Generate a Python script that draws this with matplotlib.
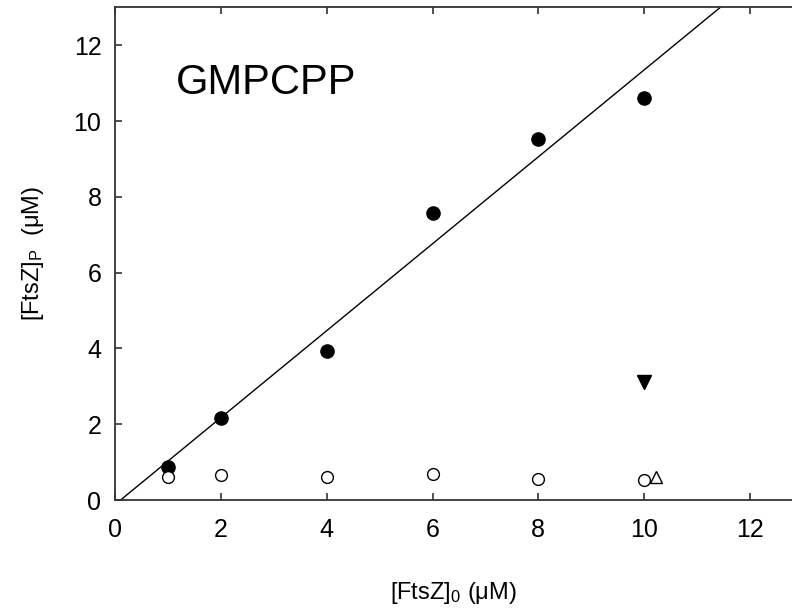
import matplotlib
matplotlib.use('Agg')
import matplotlib.pyplot as plt
import numpy as np

plt.rcParams['font.family'] = ['Liberation Sans', 'DejaVu Sans']
plt.rcParams['mathtext.fontset'] = 'custom'
plt.rcParams['mathtext.rm'] = 'Liberation Sans'
plt.rcParams['mathtext.it'] = 'Liberation Sans:italic'

# data
x_conc = [1, 2, 4, 6, 8, 10]
polymer_filled = [0.88, 2.17, 3.93, 7.57, 9.53, 10.6]
polymer_open = [0.60, 0.66, 0.60, 0.68, 0.55, 0.54]
tri_down_x = [10]
tri_down_y = [3.11]
tri_up_x = [10.22]
tri_up_y = [0.62]

fit_slope = 1.146
fit_x0 = 0.1  # x intercept

xticks = [0, 2, 4, 6, 8, 10, 12]
yticks = [0, 2, 4, 6, 8, 10, 12]

fig = plt.figure(figsize=(7.92, 6.12), dpi=100)
ax = fig.add_axes([0.1456, 0.183, 0.8544, 0.805])

xx = np.array([fit_x0, 13.0])
ax.plot(xx, fit_slope * (xx - fit_x0), color='black', lw=1.0, zorder=2)

ax.plot(x_conc, polymer_filled, 'o', ms=9.5, mfc='black', mec='black', zorder=3)
ax.plot(x_conc, polymer_open, 'o', ms=8.5, mfc='white', mec='black', mew=1.0, zorder=3)
ax.plot(tri_down_x, tri_down_y, 'v', ms=9.5, mfc='black', mec='black', zorder=3)
ax.plot(tri_up_x, tri_up_y, '^', ms=8.5, mfc='white', mec='black', mew=1.0, zorder=3)

ax.text(1.15, 11.0, 'GMPCPP', fontsize=30, ha='left', va='center')

ax.set_xlim(0, 12.8)
ax.set_ylim(0, 13)
ax.set_xticks(xticks)
ax.set_yticks(yticks)
ax.tick_params(axis='x', direction='in', length=5, width=1.2, colors='#333333',
               labelcolor='black', labelsize=18, pad=13, top=True)
ax.tick_params(axis='y', direction='in', length=5, width=1.2, colors='#333333',
               labelcolor='black', labelsize=18, pad=10)

for side in ['left', 'bottom', 'top']:
    ax.spines[side].set_linewidth(1.3)
    ax.spines[side].set_color('#333333')
ax.spines['right'].set_visible(False)

ax.set_xlabel(r'[FtsZ]$_\mathrm{0}$ ($\mathrm{\mu}$M)', fontsize=17, labelpad=27)
ax.set_ylabel(r'[FtsZ]$_\mathrm{P}$  ($\mathrm{\mu}$M)', fontsize=17, labelpad=20)

fig.savefig('out.png', dpi=100)
